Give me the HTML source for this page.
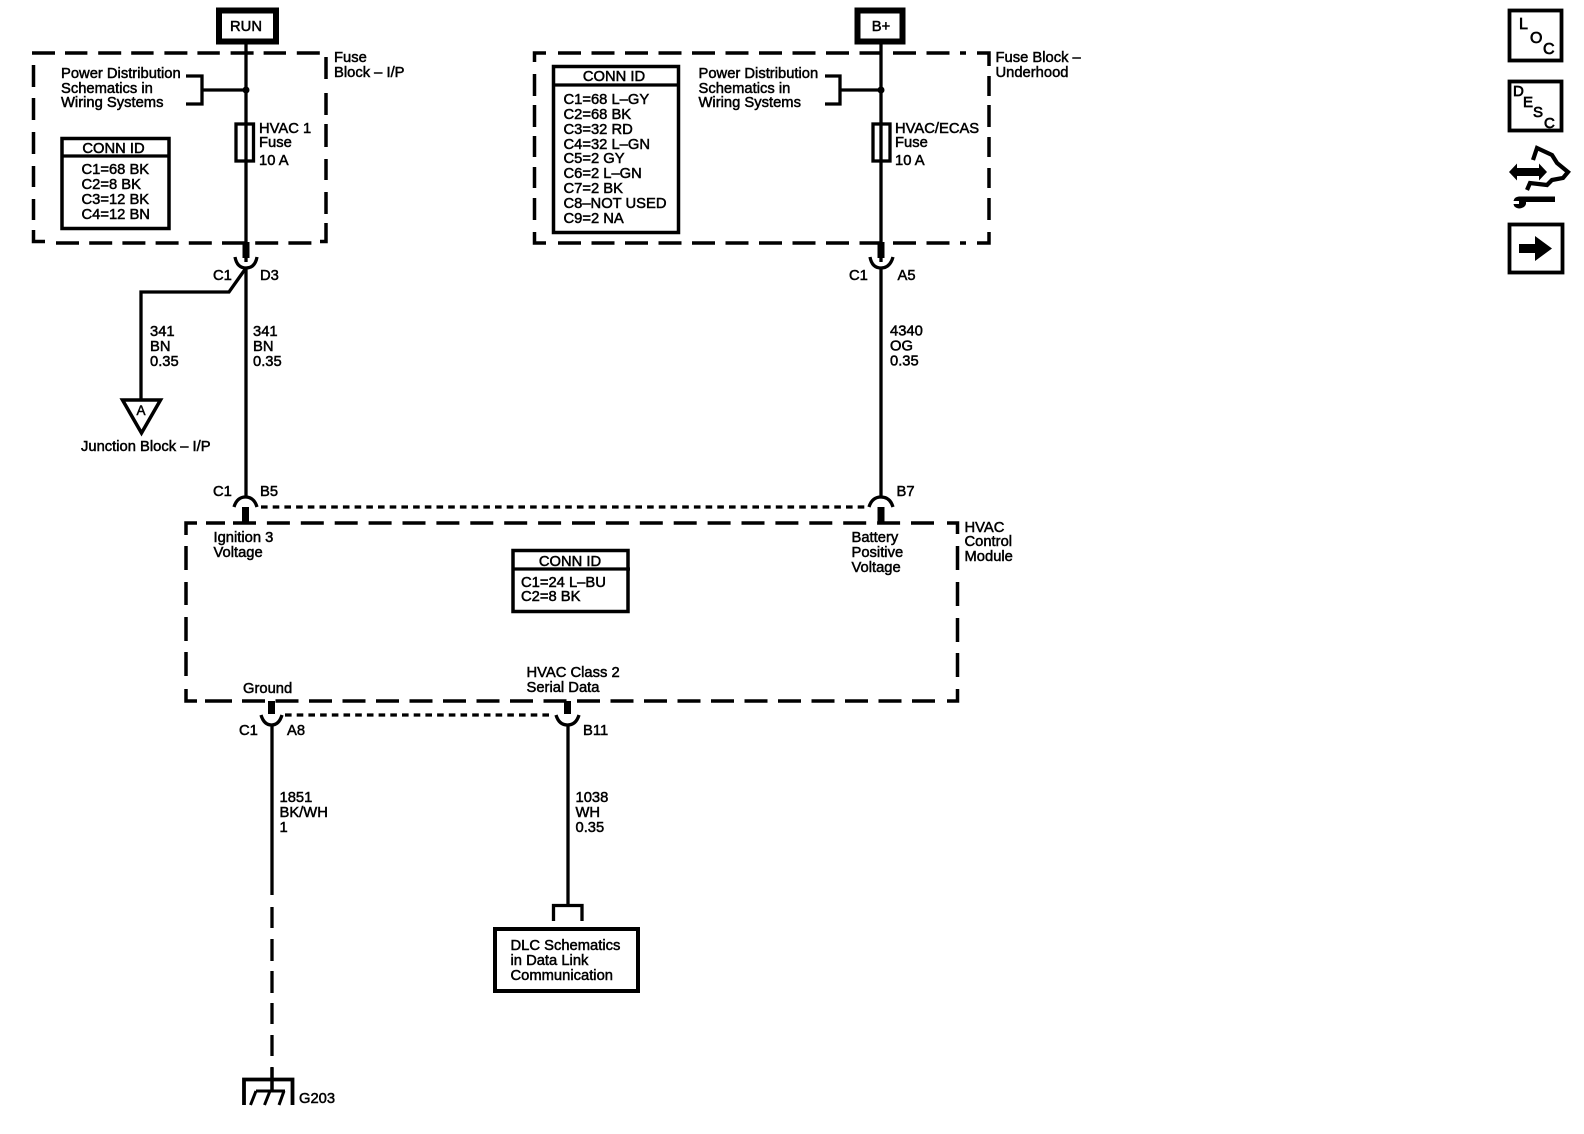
<!DOCTYPE html>
<html><head><meta charset="utf-8"><style>
html,body{margin:0;padding:0;background:#fff}
svg{display:block}
text{font-family:"Liberation Sans",sans-serif;font-size:14.75px;fill:#000;stroke:#000;stroke-width:.5px}
.l{fill:none;stroke:#000;stroke-width:3.5}
.w{fill:none;stroke:#000;stroke-width:3.3}
.k{fill:none;stroke:#000;stroke-width:7}
.h{fill:none;stroke:#000;stroke-width:3.5;stroke-dasharray:23 10.6}
.d{fill:none;stroke:#000;stroke-width:3.3;stroke-dasharray:6.6 5.1}
</style></head><body>
<svg width="1584" height="1134" viewBox="0 0 1584 1134" xmlns="http://www.w3.org/2000/svg">
<rect width="1584" height="1134" fill="#fff"/>

<!-- Supply boxes -->
<rect x="219" y="10.5" width="57" height="31" fill="#fff" stroke="#000" stroke-width="6"/>
<text x="246" y="31" text-anchor="middle">RUN</text>
<rect x="857.5" y="10.5" width="45" height="31" fill="#fff" stroke="#000" stroke-width="6"/>
<text x="881" y="31" text-anchor="middle">B+</text>

<!-- Fuse Block I/P -->
<path class="h" d="M32 53H320" style="stroke-dasharray:23 10 22.4 10.8"/>
<path class="l" d="M33.500 65V87M33.500 98V120M33.500 132V154M33.500 166V187M33.500 199V220M33.500 230V241.500H45"/>
<path class="l" d="M326 57V79M326 93V115M326 124V147M326 159V180M326 192V214M326 223V241.500H320"/>
<path class="h" d="M56 243H312" style="stroke-dasharray:23 10.2"/>

<!-- Fuse Block Underhood -->
<path class="l" d="M546 53H534.500V62M534.500 74V96M534.500 105V127M534.500 136V157M534.500 167V188M534.500 198V220M534.500 232V243H546"/>
<path class="h" d="M558 53H966" style="stroke-dasharray:23 10.5"/>
<path class="h" d="M558 243H966" style="stroke-dasharray:23 10.5"/>
<path class="l" d="M977 53H989V66M989 76V96M989 105V127M989 137V157M989 168V188M989 198V220M989 232V243H977"/>

<!-- HVAC module box -->
<path class="l" d="M197 523H186V535M186 546V570M186 582V605M186 617V641M186 652V676M186 689V701H197"/>
<path class="l" d="M206 523H225"/>
<path class="h" d="M233 523H936" style="stroke-dasharray:23 10.9"/>
<path class="l" d="M947 523H957.500V534M957.500 546V570M957.500 582V606M957.500 618V642M957.500 653V677M957.500 689V701H947"/>
<path class="l" d="M205 701H232"/>
<path class="h" d="M242 701H936" style="stroke-dasharray:23 10.5"/>

<!-- Main wires -->
<path class="w" d="M246 43V262M246 268V497"/>
<path class="w" d="M881 43V262M881 268V497"/>
<path class="w" d="M272 725V895"/>
<path class="w" d="M272 907V928M272 939V961M272 971V993M272 1003V1024M272 1035V1056M272 1067V1090"/>
<path class="w" d="M568 725V905"/>

<!-- Tap brackets -->
<path class="w" d="M186 76H202V104H186M202 90H246"/>
<circle cx="246" cy="90" r="3.500"/>
<path class="w" d="M825 76H840V104H825M840 90H881"/>
<circle cx="881" cy="90" r="3.500"/>

<!-- Fuses -->
<rect x="236" y="124" width="17.500" height="37" fill="none" stroke="#000" stroke-width="3.300"/>
<rect x="873" y="124" width="17" height="37" fill="none" stroke="#000" stroke-width="3.300"/>

<!-- Top connectors -->
<path class="k" d="M246 242V258"/>
<path class="w" d="M235 257Q237 268 246 268Q255 268 257 257"/>
<path class="k" d="M881 242V258"/>
<path class="w" d="M870 257Q872 268 881 268Q890 268 893 257"/>

<!-- Branch to junction block -->
<path class="w" d="M246 268L229 292H141V399"/>
<path d="M122.500 400H160.500L141.500 433Z" fill="#fff" stroke="#000" stroke-width="3.500" stroke-linejoin="miter"/>
<text x="136.500" y="415" style="font-size:13.5px">A</text>

<!-- Upper module connectors -->
<path class="w" d="M234 507Q237 497 245.500 497Q254 497 257 507"/>
<path class="k" d="M245.500 507V523"/>
<path class="w" d="M869 507Q872 497 881 497Q890 497 893 507"/>
<path class="k" d="M881 507V523"/>
<path class="d" d="M261 507H866"/>

<!-- Lower module connectors -->
<path class="k" d="M271.500 701V714"/>
<path class="w" d="M261 715Q264 725 271.500 725Q279 725 282 715"/>
<path class="k" d="M567.500 701V714"/>
<path class="w" d="M556 715Q559 725 567.500 725Q576 725 579 715"/>
<path class="d" d="M285 715H553"/>

<!-- CONN ID I/P -->
<rect x="62" y="138.500" width="107" height="90" fill="#fff" stroke="#000" stroke-width="3.500"/>
<path class="w" d="M62 156H170"/>
<text x="113.500" y="153" text-anchor="middle">CONN ID</text>
<text x="81.500" y="174">C1=68 BK</text>
<text x="81.500" y="189">C2=8 BK</text>
<text x="81.500" y="204">C3=12 BK</text>
<text x="81.500" y="219">C4=12 BN</text>

<!-- CONN ID Underhood -->
<rect x="553.500" y="66.500" width="125" height="166" fill="#fff" stroke="#000" stroke-width="3.500"/>
<path class="w" d="M552 85H680"/>
<text x="614" y="81" text-anchor="middle">CONN ID</text>
<text x="563.500" y="104">C1=68 L–GY</text>
<text x="563.500" y="119">C2=68 BK</text>
<text x="563.500" y="134">C3=32 RD</text>
<text x="563.500" y="149">C4=32 L–GN</text>
<text x="563.500" y="163">C5=2 GY</text>
<text x="563.500" y="178">C6=2 L–GN</text>
<text x="563.500" y="193">C7=2 BK</text>
<text x="563.500" y="208">C8–NOT USED</text>
<text x="563.500" y="223">C9=2 NA</text>

<!-- CONN ID HVAC -->
<rect x="513" y="550.500" width="115" height="61" fill="#fff" stroke="#000" stroke-width="3.500"/>
<path class="w" d="M512 569H630"/>
<text x="570" y="566" text-anchor="middle">CONN ID</text>
<text x="521" y="587">C1=24 L–BU</text>
<text x="521" y="601">C2=8 BK</text>

<!-- Labels -->
<text x="61" y="78">Power Distribution</text>
<text x="61" y="93">Schematics in</text>
<text x="61" y="107">Wiring Systems</text>
<text x="698.500" y="78">Power Distribution</text>
<text x="698.500" y="93">Schematics in</text>
<text x="698.500" y="107">Wiring Systems</text>
<text x="259" y="133">HVAC 1</text>
<text x="259" y="147">Fuse</text>
<text x="259" y="165">10 A</text>
<text x="895" y="133">HVAC/ECAS</text>
<text x="895" y="147">Fuse</text>
<text x="895" y="165">10 A</text>
<text x="334" y="62">Fuse</text>
<text x="334" y="77">Block – I/P</text>
<text x="995.500" y="62">Fuse Block –</text>
<text x="995.500" y="77">Underhood</text>
<text x="213" y="280">C1</text>
<text x="260" y="280">D3</text>
<text x="849" y="280">C1</text>
<text x="897.500" y="280">A5</text>
<text x="150" y="336">341</text>
<text x="150" y="351">BN</text>
<text x="150" y="366">0.35</text>
<text x="253" y="336">341</text>
<text x="253" y="351">BN</text>
<text x="253" y="366">0.35</text>
<text x="890" y="335.500">4340</text>
<text x="890" y="350.500">OG</text>
<text x="890" y="365.500">0.35</text>
<text x="81" y="451">Junction Block – I/P</text>
<text x="213" y="496">C1</text>
<text x="260" y="496">B5</text>
<text x="896.500" y="496">B7</text>
<text x="213.500" y="542">Ignition 3</text>
<text x="213.500" y="557">Voltage</text>
<text x="851.500" y="542">Battery</text>
<text x="851.500" y="557">Positive</text>
<text x="851.500" y="572">Voltage</text>
<text x="964.500" y="532">HVAC</text>
<text x="964.500" y="546">Control</text>
<text x="964.500" y="561">Module</text>
<text x="243" y="693">Ground</text>
<text x="526.500" y="677">HVAC Class 2</text>
<text x="526.500" y="692">Serial Data</text>
<text x="239" y="735">C1</text>
<text x="287" y="735">A8</text>
<text x="583" y="735">B11</text>
<text x="279.500" y="802">1851</text>
<text x="279.500" y="817">BK/WH</text>
<text x="279.500" y="832">1</text>
<text x="575.500" y="802">1038</text>
<text x="575.500" y="817">WH</text>
<text x="575.500" y="832">0.35</text>

<!-- DLC -->
<path class="w" d="M553.500 921V905.500H582V921"/>
<rect x="495" y="929" width="143" height="62" fill="#fff" stroke="#000" stroke-width="4"/>
<text x="510.500" y="950">DLC Schematics</text>
<text x="510.500" y="965">in Data Link</text>
<text x="510.500" y="980">Communication</text>

<!-- Ground -->
<path d="M244 1105V1079.500H292.500V1105" fill="none" stroke="#000" stroke-width="3.800"/>
<path class="w" d="M272 1068V1091"/>
<path d="M256 1091H285M256 1091L250.500 1105M270 1091L264.500 1105M284 1091L279 1105" fill="none" stroke="#000" stroke-width="3"/>
<text x="299" y="1103">G203</text>

<!-- Side icons -->
<rect x="1509.500" y="10.500" width="52" height="50" fill="none" stroke="#000" stroke-width="3.800"/>
<text x="1519" y="29" style="font-size:16px;stroke-width:.7px">L</text>
<text x="1530" y="43" style="font-size:16px;stroke-width:.7px">O</text>
<text x="1543" y="54" style="font-size:16px;stroke-width:.7px">C</text>
<rect x="1509.500" y="81.500" width="52" height="49" fill="none" stroke="#000" stroke-width="3.800"/>
<text x="1513" y="96" style="font-size:15px;stroke-width:.7px">D</text>
<text x="1523" y="107" style="font-size:15px;stroke-width:.7px">E</text>
<text x="1533" y="117" style="font-size:15px;stroke-width:.7px">S</text>
<text x="1544" y="128" style="font-size:15px;stroke-width:.7px">C</text>
<path d="M1509 172L1517 163.500V168H1539V163.500L1547 172L1539 180.500V176H1517V180.500Z"/>
<path d="M1527 190L1530 183L1547 185L1552 180L1563 178L1568 172L1557 163L1552 155L1537 148L1533 160" fill="none" stroke="#000" stroke-width="4.200"/>
<path d="M1523 196.500H1555V202H1526V204Q1525 208 1519 208.500Q1514 208 1513.500 204H1519V201H1513.500Q1514 197 1519 196.500Z"/>
<rect x="1509.500" y="224.500" width="53" height="48" fill="none" stroke="#000" stroke-width="3.800"/>
<path d="M1519 244H1535V236L1552 248.500L1535 261V253H1519Z"/>
</svg>
</body></html>
